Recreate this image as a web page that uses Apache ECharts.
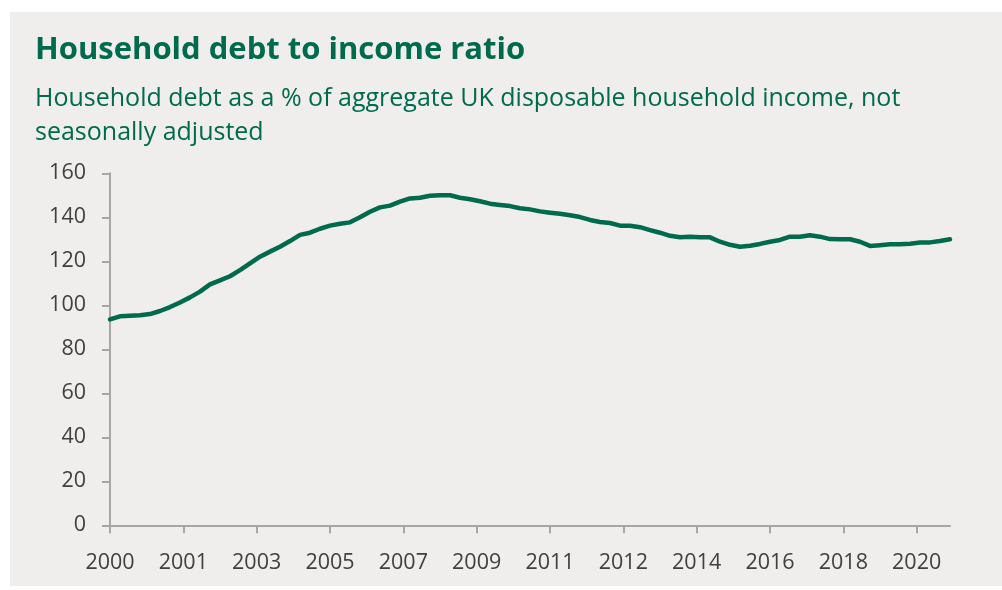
<!DOCTYPE html>
<html>
<head>
<meta charset="utf-8">
<title>Household debt to income ratio</title>
<script src="https://cdn.jsdelivr.net/npm/echarts@6/dist/echarts.min.js"></script>
<style>
  html, body { margin: 0; padding: 0; background: #ffffff; }
  #chart { width: 1002px; height: 590px; }
</style>
</head>
<body>
<div id="chart"></div>
<script>
// Quarterly household debt-to-income ratio (%), 2000 Q1 onwards
const ratioValues = [
  93.6, 95.0, 95.3, 95.5, 96.0, 97.4, 99.2, 101.3, 103.6, 106.2,
  109.5, 111.3, 113.2, 116.0, 119.1, 122.1, 124.4, 126.6, 129.2, 132.0,
  133.0, 134.8, 136.2, 137.1, 137.7, 140.0, 142.5, 144.5, 145.3, 147.1,
  148.6, 148.9, 149.8, 150.0, 150.0, 148.9, 148.2, 147.3, 146.2, 145.6,
  145.1, 144.1, 143.6, 142.7, 142.1, 141.6, 140.9, 140.1, 138.8, 137.9,
  137.4, 136.2, 136.2, 135.5, 134.2, 133.0, 131.6, 130.9, 131.2, 130.9,
  130.9, 128.9, 127.5, 126.6, 127.1, 127.9, 128.9, 129.7, 131.2, 131.2,
  131.8, 131.2, 130.1, 130.0, 130.0, 128.9, 127.0, 127.3, 127.7, 127.7,
  128.0, 128.5, 128.6, 129.2, 130.0
];

// Year labels shown under the date axis (one every 22 months)
const xTickLabels = ['2000', '2001', '2003', '2005', '2007', '2009',
                     '2011', '2012', '2014', '2016', '2018', '2020'];
const yTickValues = [0, 20, 40, 60, 80, 100, 120, 140, 160];

const titleText = 'Household debt to income ratio';
const subtitleText = 'Household debt as a % of aggregate UK disposable household income, not\nseasonally adjusted';

const MONTHS_PER_QUARTER = 3;
const MONTHS_PER_TICK = 22;

const GREEN = '#006A4D';
const AXIS_GREY = '#A6A6A6';
const LABEL_GREY = '#404040';
const LABEL_FONT = '"Open Sans", "Noto Sans", sans-serif';

const seriesData = ratioValues.map((v, i) => [i * MONTHS_PER_QUARTER, v]);
const tickMonths = xTickLabels.map((_, i) => i * MONTHS_PER_TICK);
const lastMonth = (ratioValues.length - 1) * MONTHS_PER_QUARTER;

const chart = echarts.init(document.getElementById('chart'), null, { renderer: 'canvas' });

chart.setOption({
  animation: false,
  backgroundColor: 'transparent',
  graphic: [
    {
      type: 'rect',
      z: -10,
      silent: true,
      shape: { x: 10, y: 12, width: 992, height: 574 },
      style: { fill: '#EFEEED' }
    },
    {
      type: 'text',
      left: 35,
      top: 35,
      style: {
        text: titleText,
        fill: GREEN,
        font: 'bold 31px "Open Sans", "Noto Sans", sans-serif'
      }
    },
    {
      type: 'text',
      left: 35,
      top: 82,
      style: {
        text: subtitleText,
        fill: GREEN,
        font: '25px "Open Sans", "Noto Sans", sans-serif',
        lineHeight: 34
      }
    }
  ],
  grid: {
    left: 110,
    right: 52,
    top: 173.3,
    bottom: 64.7,
    containLabel: false
  },
  xAxis: {
    type: 'value',
    min: 0,
    max: lastMonth,
    axisLine: { show: true, lineStyle: { color: AXIS_GREY, width: 2 } },
    axisTick: {
      show: true,
      length: 8,
      customValues: tickMonths,
      lineStyle: { color: AXIS_GREY, width: 2 }
    },
    axisLabel: {
      customValues: tickMonths,
      formatter: (v) => xTickLabels[Math.round(v / MONTHS_PER_TICK)],
      color: LABEL_GREY,
      fontFamily: LABEL_FONT,
      fontSize: 21.5,
      margin: 27
    },
    splitLine: { show: false }
  },
  yAxis: {
    type: 'value',
    min: yTickValues[0],
    max: yTickValues[yTickValues.length - 1],
    interval: yTickValues[1] - yTickValues[0],
    axisLine: { show: true, lineStyle: { color: AXIS_GREY, width: 2 } },
    axisTick: { show: true, length: 8, lineStyle: { color: AXIS_GREY, width: 2 } },
    axisLabel: {
      color: LABEL_GREY,
      fontFamily: LABEL_FONT,
      fontSize: 21.5,
      margin: 24
    },
    splitLine: { show: false }
  },
  series: [
    {
      type: 'line',
      data: seriesData,
      symbol: 'none',
      smooth: false,
      lineStyle: { color: GREEN, width: 4.5, cap: 'round', join: 'round' }
    }
  ]
});
</script>
</body>
</html>
